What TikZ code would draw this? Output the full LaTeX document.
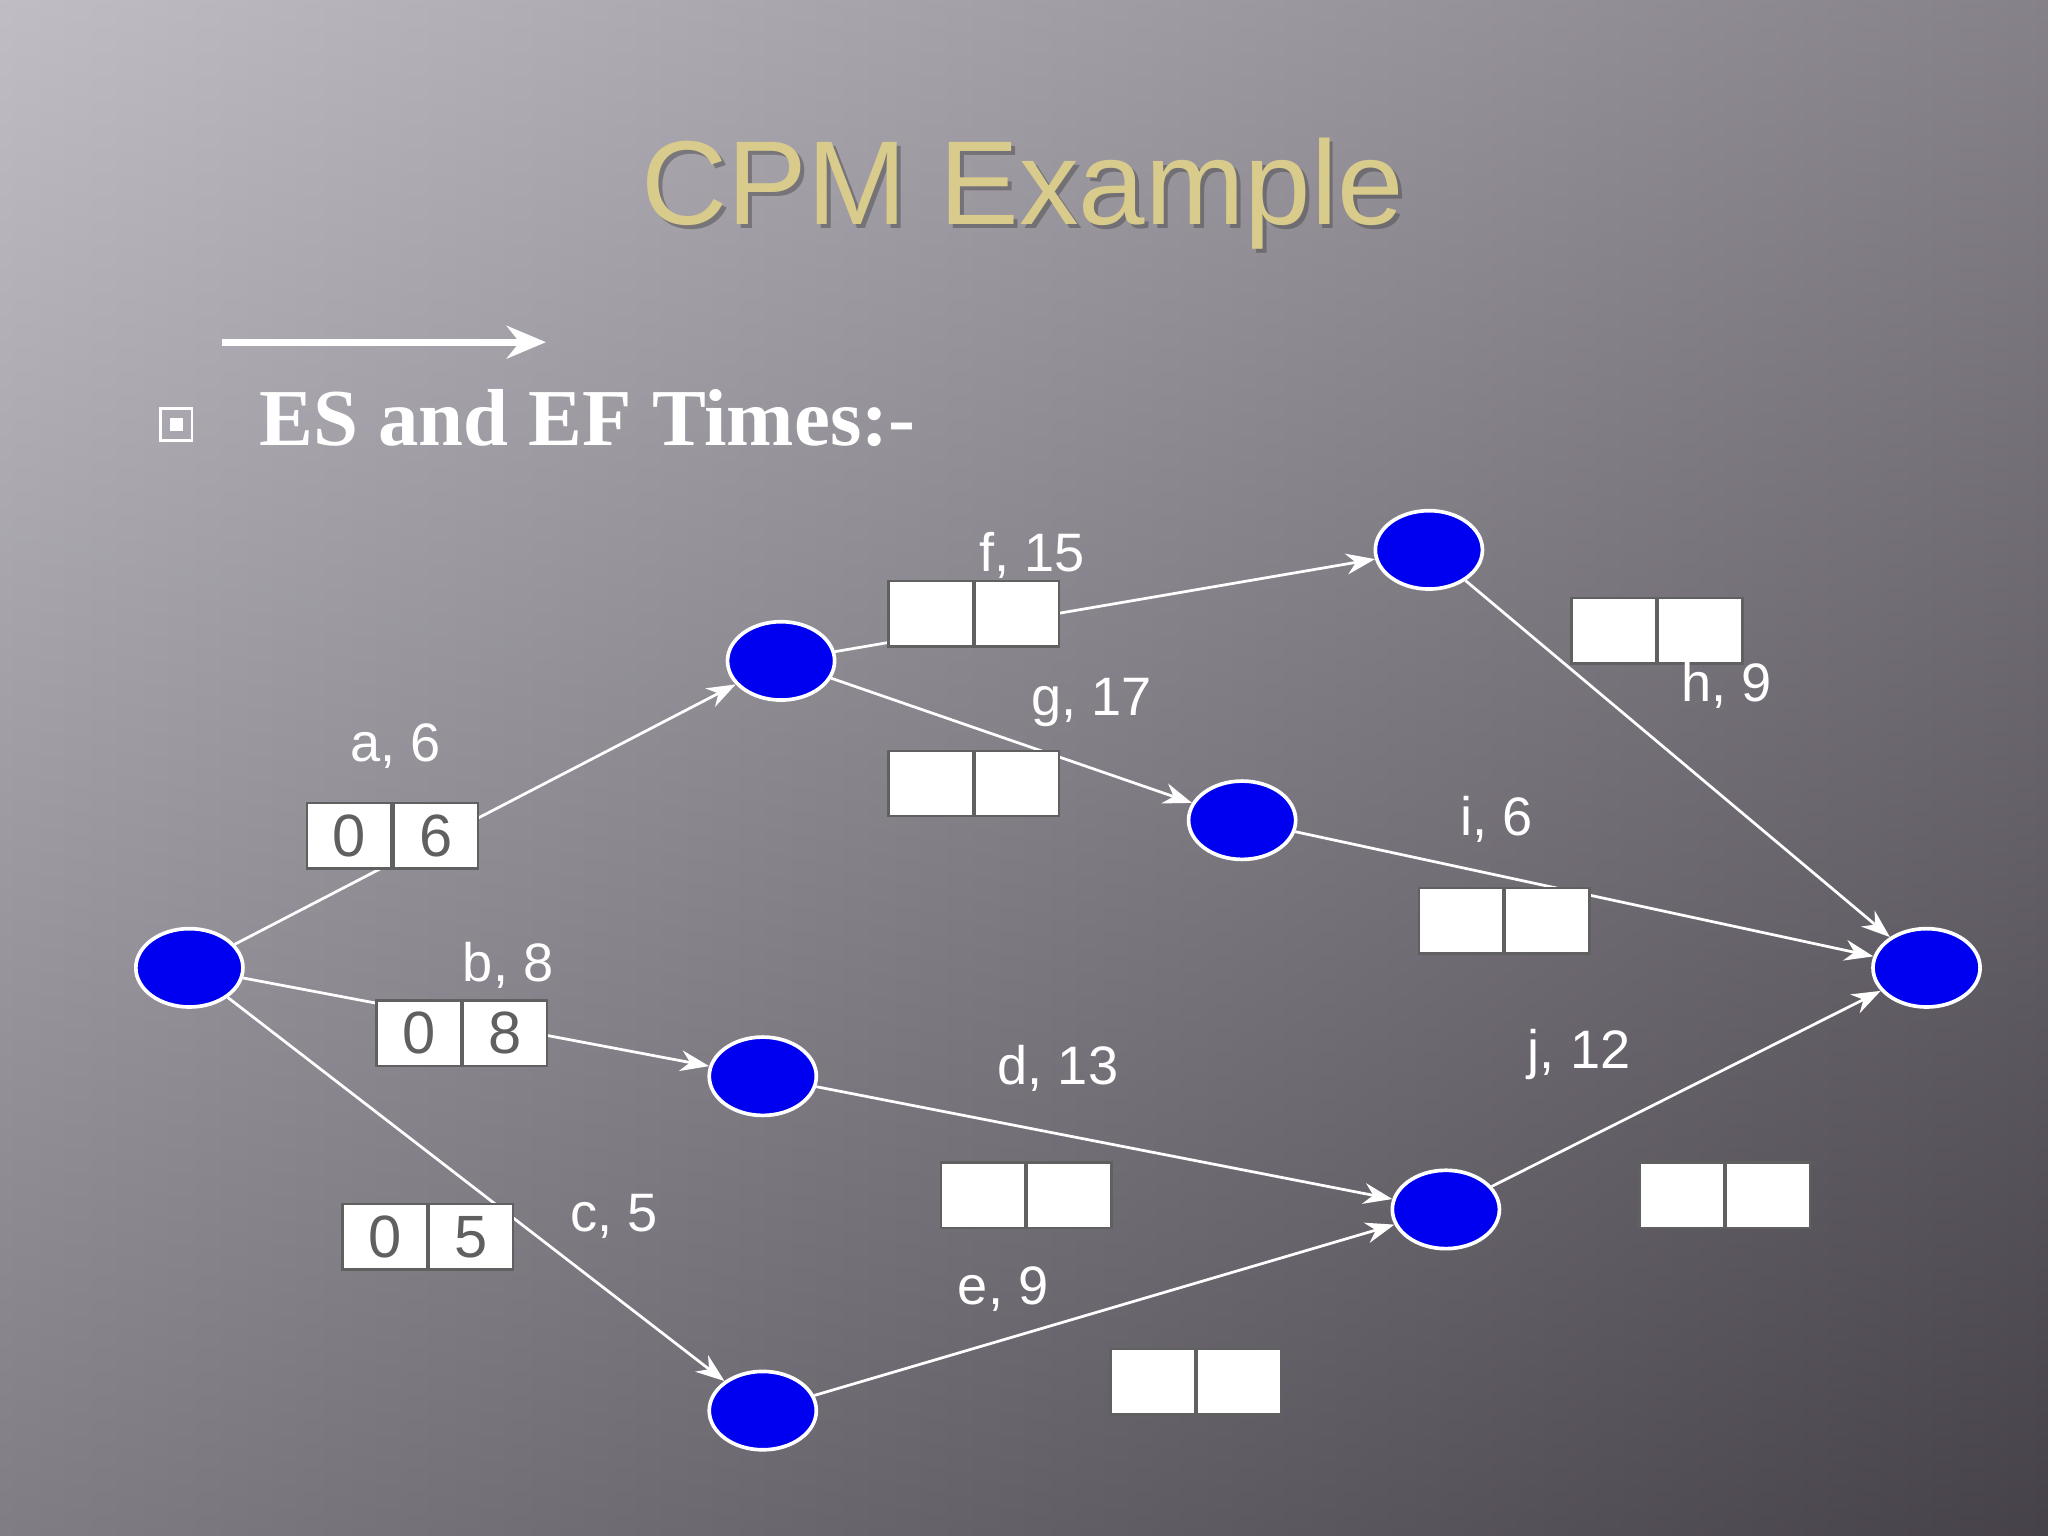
\documentclass[tikz,border=0pt]{standalone}
\usepackage{fontspec}
\setmainfont{Liberation Serif}
\setsansfont{Liberation Sans}
\usetikzlibrary{shapes.geometric,arrows.meta}
\definecolor{nodeblue}{HTML}{0000F0}
\definecolor{titlecol}{HTML}{D9CB8C}
\definecolor{digit}{HTML}{606060}
\definecolor{bgA}{HTML}{ABA7B2}
\definecolor{bgB}{HTML}{5E5862}
\tikzset{
  ev/.style={ellipse,draw=white,line width=0.8pt,fill=nodeblue,minimum width=0.82cm,minimum height=0.6cm,inner sep=0pt},
  act/.style={draw=white,line width=0.6pt,-{Stealth[length=2.2mm,width=1.6mm]}},
  cell/.style={draw=digit,line width=0.5pt,fill=white,minimum width=0.645cm,minimum height=0.5cm,inner sep=0pt,font=\sffamily\fontsize{13}{13}\selectfont,text=digit},
  lab/.style={font=\sffamily\fontsize{11.8}{13}\selectfont,text=white}
}
\begin{document}
\begin{tikzpicture}
\useasboundingbox (0,0) rectangle (15.68,-11.76);
\shade[left color=bgA, right color=bgB] (0,0) rectangle (15.68,-11.76);
\shade[top color=black!0, bottom color=black, opacity=0.25] (0,0) rectangle (15.68,-11.76);
% title
\node[font=\sffamily\fontsize{26}{30}\selectfont,text=black!70,opacity=0.5] at (7.86,-1.51) {CPM Example};
\node[font=\sffamily\fontsize{26}{30}\selectfont,text=titlecol] (title) at (7.83,-1.48) {CPM Example};
% top arrow
\coordinate (ta) at (1.70,-2.62); \coordinate (tb) at (4.18,-2.62);
\draw[white,line width=1.6pt,-{Stealth[length=3mm,width=2.5mm]}] (ta) -- (tb);
% bullet
\draw[white,line width=0.6pt] (1.23,-3.13) rectangle (1.47,-3.37);
\fill[white] (1.30,-3.20) rectangle (1.40,-3.30);
\node[anchor=west,font=\bfseries\fontsize{17.6}{20}\selectfont,text=white] (hd) at (1.86,-3.20) {ES and EF Times:-};
% events
\node[ev] (n1) at (1.45,-7.41) {};
\node[ev] (n2) at (5.98,-5.06) {};
\node[ev] (n3) at (10.94,-4.21) {};
\node[ev] (n4) at (9.51,-6.28) {};
\node[ev] (n5) at (14.75,-7.41) {};
\node[ev] (n6) at (5.84,-8.24) {};
\node[ev] (n7) at (11.07,-9.26) {};
\node[ev] (n8) at (5.84,-10.80) {};
% activities
\draw[act] (n1) -- (n2);
\draw[act] (n1) -- (n6);
\draw[act] (n1) -- (n8);
\draw[act] (n2) -- (n3);
\draw[act] (n2) -- (n4);
\draw[act] (n3) -- (n5);
\draw[act] (n4) -- (n5);
\draw[act] (n6) -- (n7);
\draw[act] (n8) -- (n7);
\draw[act] (n7) -- (n5);
% boxes
\newcommand{\twobox}[5]{%
  \node[cell] (#1l) at (#2,#3) {#4};
  \node[cell,anchor=west] (#1r) at (#1l.east) {#5};}
\twobox{a}{2.675}{-6.40}{0}{6}
\twobox{b}{3.205}{-7.91}{0}{8}
\twobox{c}{2.945}{-9.47}{0}{5}
\twobox{f}{7.125}{-4.70}{}{}
\twobox{g}{7.125}{-6.00}{}{}
\twobox{i}{11.185}{-7.05}{}{}
\twobox{h}{12.355}{-4.83}{}{}
\twobox{d}{7.525}{-9.15}{}{}
\twobox{e}{8.825}{-10.58}{}{}
\twobox{j}{12.875}{-9.15}{}{}
% labels
\node[lab] (la) at (3.03,-5.71) {a, 6};
\node[lab] (lb) at (3.89,-7.39) {b, 8};
\node[lab] (lc) at (4.70,-9.31) {c, 5};
\node[lab] (lf) at (7.90,-4.25) {f, 15};
\node[lab] (lg) at (8.36,-5.38) {g, 17};
\node[lab] (li) at (11.46,-6.27) {i, 6};
\node[lab] (lh) at (13.22,-5.25) {h, 9};
\node[lab] (lj) at (12.09,-8.07) {j, 12};
\node[lab] (ld) at (8.10,-8.18) {d, 13};
\node[lab] (le) at (7.68,-9.87) {e, 9};
\end{tikzpicture}
\end{document}
